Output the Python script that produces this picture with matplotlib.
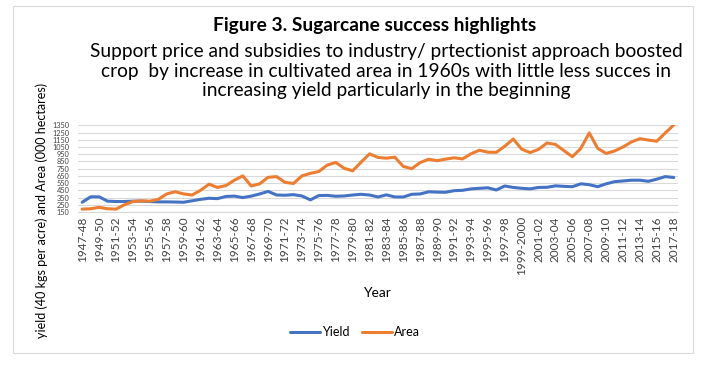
import matplotlib
matplotlib.use("Agg")
import matplotlib.pyplot as plt
from matplotlib.patches import Rectangle

years = ["1947-48", "1948-49", "1949-50", "1950-51", "1951-52", "1952-53", "1953-54",
         "1954-55", "1955-56", "1956-57", "1957-58", "1958-59", "1959-60", "1960-61",
         "1961-62", "1962-63", "1963-64", "1964-65", "1965-66", "1966-67", "1967-68",
         "1968-69", "1969-70", "1970-71", "1971-72", "1972-73", "1973-74", "1974-75",
         "1975-76", "1976-77", "1977-78", "1978-79", "1979-80", "1980-81", "1981-82",
         "1982-83", "1983-84", "1984-85", "1985-86", "1986-87", "1987-88", "1988-89",
         "1989-90", "1990-91", "1991-92", "1992-93", "1993-94", "1994-95", "1995-96",
         "1996-97", "1997-98", "1998-99", "1999-2000", "2000-01", "2001-02", "2002-03",
         "2003-04", "2004-05", "2005-06", "2006-07", "2007-08", "2008-09", "2009-10",
         "2010-11", "2011-12", "2012-13", "2013-14", "2014-15", "2015-16", "2016-17",
         "2017-18"]

yield_vals = [285, 360, 360, 300, 295, 295, 300, 300, 295, 290, 290, 288, 285, 305,
              325, 340, 335, 365, 370, 350, 370, 400, 435, 385, 382, 390, 372, 318,
              378, 380, 368, 372, 385, 395, 385, 358, 387, 358, 358, 395, 400, 430,
              425, 423, 445, 450, 470, 478, 485, 455, 510, 490, 478, 470, 490, 492,
              512, 505, 500, 540, 528, 500, 540, 570, 580, 590, 590, 575, 605, 640,
              628]

area_vals = [190, 195, 215, 195, 190, 250, 295, 305, 300, 325, 400, 430, 400, 385,
             450, 535, 490, 515, 590, 650, 510, 540, 630, 640, 560, 545, 650, 685,
             710, 800, 835, 755, 720, 840, 955, 905, 895, 908, 780, 750, 835, 880,
             860, 882, 900, 885, 955, 1005, 978, 976, 1060, 1160, 1020, 972, 1017, 1105,
             1085, 1000, 915, 1030, 1245, 1030, 960, 995, 1050, 1120, 1165, 1145, 1130, 1245,
             1355]

y_ticks = [150, 250, 350, 450, 550, 650, 750, 850, 950, 1050, 1150, 1250, 1350]

title = "Figure 3. Sugarcane success highlights"
subtitle = ("Support price and subsidies to industry/ prtectionist approach boosted\n"
            "crop  by increase in cultivated area in 1960s with little less succes in\n"
            "increasing yield particularly in the beginning")
ylabel = "yield (40 kgs per acre) and Area (000 hectares)"
xlabel = "Year"

FONT = "Lato"
W, H = 707, 371
fig = plt.figure(figsize=(W / 100, H / 100), dpi=100)

# chart border
fig.patches.append(Rectangle((13 / W, 1 - 353 / H), (693 - 13) / W, (353 - 6) / H,
                             transform=fig.transFigure, fill=False,
                             edgecolor="#d9d9d9", linewidth=0.8))

ax = fig.add_axes([78 / W, 1 - 212 / H, (678 - 78) / W, (212 - 125.3) / H])
x = list(range(len(years)))
ax.plot(x, yield_vals, color="#4472C4", linewidth=2.2, label="Yield", solid_capstyle="round")
ax.plot(x, area_vals, color="#ED7D31", linewidth=2.2, label="Area", solid_capstyle="round")
ax.set_xlim(-0.5, len(years) - 0.5)
ax.set_ylim(150, 1350)
ax.set_yticks(y_ticks)
ax.set_yticklabels([str(v) for v in y_ticks], fontsize=5.3, family=FONT, color="#404040")
ax.set_xticks(x[::2])
ax.set_xticklabels(years[::2], rotation=90, fontsize=8.5, family=FONT, color="#404040")
ax.tick_params(axis="y", length=0, pad=6)
ax.tick_params(axis="x", length=0, pad=3)
ax.grid(axis="y", color="#d9d9d9", linewidth=0.8)
ax.set_axisbelow(True)
for s in ["top", "right", "left"]:
    ax.spines[s].set_visible(False)
ax.spines["bottom"].set_color("#d9d9d9")
ax.spines["bottom"].set_linewidth(0.8)

fig.text(375 / W, 1 - 26 / H, title, ha="center", va="center", fontsize=13.8,
         fontweight="bold", family=FONT, color="black")
fig.text(386 / W, 1 - 71 / H, subtitle, ha="center", va="center", fontsize=13.8,
         family=FONT, color="black", linespacing=1.18)
fig.text(42 / W, 1 - 210 / H, ylabel, rotation=90, ha="center", va="center",
         fontsize=9, family=FONT, color="black")
fig.text(377 / W, 1 - 293 / H, xlabel, ha="center", va="center", fontsize=10,
         family=FONT, color="black")

fig.legend(loc="center", bbox_to_anchor=(355 / W, 1 - 332 / H), ncol=2, frameon=False,
           prop={"family": FONT, "size": 9}, handlelength=2.4, handletextpad=0.15,
           columnspacing=1.0)

fig.savefig("out.png", dpi=100)
